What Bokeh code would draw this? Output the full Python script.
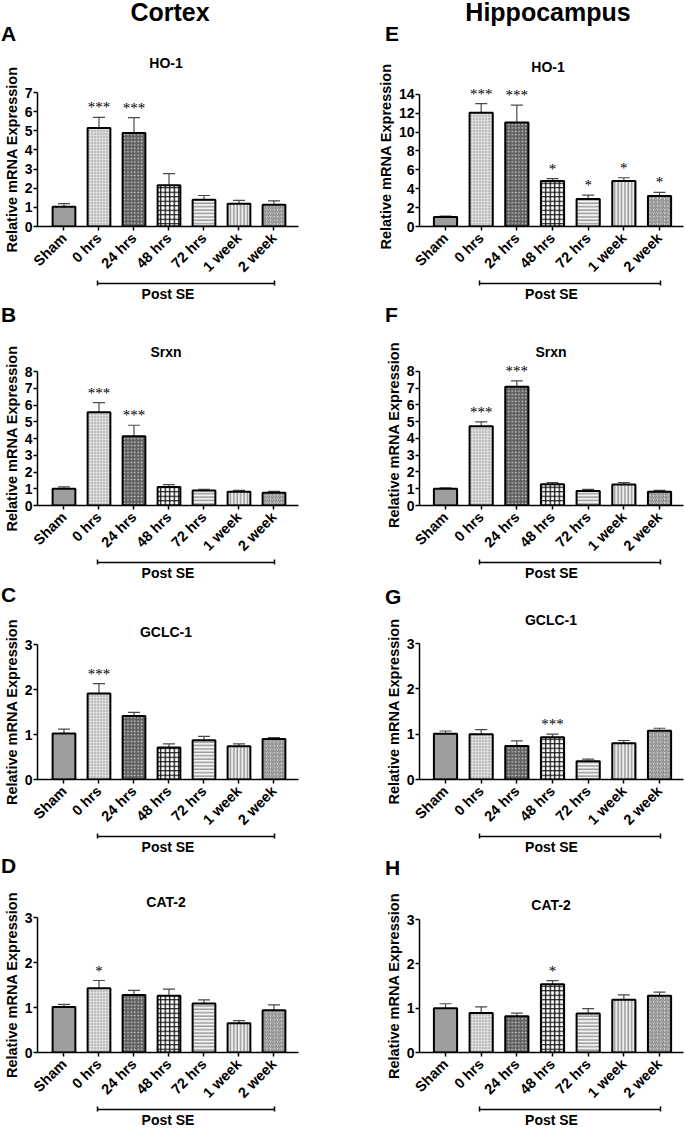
import math
from bokeh.plotting import figure
from bokeh.models import (Range1d, FixedTicker, LinearAxis, Whisker, TeeHead, Div,
                          ColumnDataSource, LabelSet, CustomJSTickFormatter)
from bokeh.layouts import row, column
from bokeh.embed import file_html
from bokeh.resources import INLINE

# ---------------- data ----------------
groups = ["Sham", "0 hrs", "24 hrs", "48 hrs", "72 hrs", "1 week", "2 week"]

cortex_ho1_mean = [1.03, 5.14, 4.89, 2.16, 1.40, 1.19, 1.14]
cortex_ho1_sem = [0.16, 0.56, 0.80, 0.60, 0.22, 0.17, 0.20]
cortex_ho1_sig = ["", "***", "***", "", "", "", ""]

hippo_ho1_mean = [1.00, 12.04, 11.00, 4.82, 2.92, 4.82, 3.23]
hippo_ho1_sem = [0.10, 0.96, 1.86, 0.24, 0.41, 0.34, 0.38]
hippo_ho1_sig = ["", "***", "***", "*", "*", "*", "*"]

cortex_srxn_mean = [1.00, 5.57, 4.14, 1.11, 0.90, 0.82, 0.76]
cortex_srxn_sem = [0.11, 0.57, 0.65, 0.14, 0.07, 0.08, 0.08]
cortex_srxn_sig = ["", "***", "***", "", "", "", ""]

hippo_srxn_mean = [1.00, 4.73, 7.08, 1.27, 0.86, 1.25, 0.82]
hippo_srxn_sem = [0.05, 0.26, 0.35, 0.10, 0.10, 0.12, 0.08]
hippo_srxn_sig = ["", "***", "***", "", "", "", ""]

cortex_gclc_mean = [1.02, 1.91, 1.41, 0.71, 0.87, 0.74, 0.90]
cortex_gclc_sem = [0.10, 0.22, 0.08, 0.08, 0.09, 0.05, 0.03]
cortex_gclc_sig = ["", "***", "", "", "", "", ""]

hippo_gclc_mean = [1.01, 1.00, 0.74, 0.93, 0.40, 0.80, 1.075]
hippo_gclc_sem = [0.06, 0.10, 0.11, 0.07, 0.05, 0.06, 0.055]
hippo_gclc_sig = ["", "", "", "***", "", "", ""]

cortex_cat_mean = [1.01, 1.43, 1.28, 1.26, 1.09, 0.65, 0.94]
cortex_cat_sem = [0.06, 0.17, 0.10, 0.15, 0.08, 0.06, 0.12]
cortex_cat_sig = ["", "*", "", "", "", "", ""]

hippo_cat_mean = [1.00, 0.89, 0.82, 1.54, 0.88, 1.19, 1.28]
hippo_cat_sem = [0.10, 0.14, 0.07, 0.08, 0.11, 0.11, 0.08]
hippo_cat_sig = ["", "", "", "*", "", "", ""]

column_titles = ["Cortex", "Hippocampus"]
panel_letters = [["A", "B", "C", "D"], ["E", "F", "G", "H"]]
gene_names = ["HO-1", "Srxn", "GCLC-1", "CAT-2"]
y_label = "Relative mRNA Expression"
bracket_label = "Post SE"

# ---------------- styles / geometry ----------------
FONT = "Liberation Sans"
INK = "#000000"
bar_fill = ["#9e9e9e", "#dcdcdc", "#5e5e5e", "#ffffff", "#f2f2f2", "#ececec", "#e2e2e2"]
bar_hatch = ["blank", "dot", "dot", "cross", "horizontal_line", "vertical_line", "right_diagonal_line"]
bar_hcolor = ["#000000", "#8f8f8f", "#cfcfcf", "#111111", "#8a8a8a", "#8a8a8a", "#777777"]
bar_hscale = [4, 3, 3.4, 4.5, 3.4, 3.4, 3.6]
bar_hweight = [1, 1, 1.3, 1.3, 1.2, 1.2, 1.1]

ROW_TOP = [0, 304, 583, 857]
ROW_BOT = [304, 583, 857, 1130]
COL_W = [340, 345]
COL_L = [32, 79]
COL_R = [42, 2]
COL_FIRST = [27.0, 26.0]   # px from frame left to first bar centre
SPACING = 35.67            # px between bar centres
PAGE_W, PAGE_H = 685, 1130

# text placement (page px): header centres, letter left edges, gene centres
HEADER_POS = [(170, 12), (548, 12)]
LETTER_X = [1, 385]
LETTER_Y = [[34, 315, 595, 866], [34, 315, 597, 868]]
GENE_X = [[166, 166, 166, 166], [548, 551, 551, 551]]
GENE_Y = [[63, 352, 632, 902], [67, 352, 620, 905]]


def make_panel(col, r, mean, sem, sig, ymax, ystep, y_top, y_bot, headroom):
    frame_top = y_top - headroom
    H = ROW_BOT[r] - ROW_TOP[r]
    T = frame_top - ROW_TOP[r]
    B = ROW_BOT[r] - y_bot
    Fh = y_bot - frame_top
    W, L, R = COL_W[col], COL_L[col], COL_R[col]
    fw = W - L - R
    x0 = -COL_FIRST[col] / SPACING
    x1 = x0 + fw / SPACING
    yend = ymax * Fh / (y_bot - y_top)
    p = figure(width=W, height=H, x_range=Range1d(x0, x1), y_range=Range1d(0, yend),
               output_backend="svg", toolbar_location=None, title=None,
               min_border_left=L, min_border_right=R, min_border_top=T,
               min_border_bottom=B)
    p.outline_line_color = None
    p.xgrid.visible = False
    p.ygrid.visible = False
    p.background_fill_color = "white"
    p.border_fill_color = "white"

    xs = list(range(len(groups)))
    src = ColumnDataSource(dict(
        x=xs, mean=mean, upper=[m + s for m, s in zip(mean, sem)],
        fill=bar_fill, hatch=bar_hatch, hcolor=bar_hcolor,
        hscale=bar_hscale, hweight=bar_hweight))
    p.vbar(x="x", top="mean", width=0.65, bottom=0, source=src,
           fill_color="fill", line_color="black", line_width=2,
           hatch_pattern="hatch", hatch_color="hcolor", hatch_scale="hscale",
           hatch_weight="hweight")
    p.add_layout(Whisker(base="x", lower="mean", upper="upper", source=src,
                         dimension="height", line_color="#4a4a4a", line_width=1.2,
                         lower_head=None,
                         upper_head=TeeHead(size=12, line_color="#4a4a4a", line_width=1.2)))

    sx = [x for x, s in zip(xs, sig) if s]
    sy = [m + e for m, e, s in zip(mean, sem, sig) if s]
    st = [s for s in sig if s]
    ssrc = ColumnDataSource(dict(x=sx, y=sy, t=st))
    p.add_layout(LabelSet(x="x", y="y", text="t", source=ssrc, text_align="center",
                          text_baseline="alphabetic", y_offset=5,
                          text_font=FONT, text_font_size="15px", text_color="#000000"))

    # y axis
    ya = p.yaxis[0]
    ya.ticker = FixedTicker(ticks=list(range(0, ymax + 1, ystep)))
    ya.bounds = (0, ymax)
    ya.axis_label = y_label
    ya.axis_label_text_font = FONT
    ya.axis_label_text_font_style = "bold"
    ya.axis_label_text_font_size = "14.5px"
    ya.axis_label_text_color = INK
    ya.axis_label_standoff = 2
    ya.major_label_text_font = FONT
    ya.major_label_text_font_style = "bold"
    ya.major_label_text_font_size = "14px"
    ya.major_label_text_color = INK
    ya.major_label_standoff = 1
    ya.major_tick_in = 0
    ya.major_tick_out = 4
    ya.minor_tick_line_color = None
    ya.axis_line_width = 1.5
    ya.major_tick_line_width = 1.5

    # x axis
    xa = p.xaxis[0]
    xa.ticker = FixedTicker(ticks=xs)
    xa.major_label_overrides = {i: g for i, g in enumerate(groups)}
    xa.major_label_orientation = math.pi / 4
    xa.major_label_text_font = FONT
    xa.major_label_text_font_style = "bold"
    xa.major_label_text_font_size = "14.5px"
    xa.major_label_text_color = INK
    xa.major_label_standoff = 5
    xa.major_tick_in = 0
    xa.major_tick_out = 4
    xa.minor_tick_line_color = None
    xa.axis_line_width = 1.5
    xa.major_tick_line_width = 1.5

    # "Post SE" bracket
    br = LinearAxis(ticker=FixedTicker(ticks=[0.95, 6.02]), bounds=(0.95, 6.02),
                    axis_label=bracket_label)
    br.formatter = CustomJSTickFormatter(code="return ''")
    br.major_label_text_font_size = "1px"
    br.major_label_standoff = 0
    br.major_tick_in = 3
    br.major_tick_out = 2
    br.minor_tick_line_color = None
    br.axis_line_width = 1.5
    br.major_tick_line_width = 1.5
    br.axis_label_standoff = 0
    br.axis_label_text_font = FONT
    br.axis_label_text_font_style = "bold"
    br.axis_label_text_font_size = "14px"
    br.axis_label_text_color = INK
    p.add_layout(br, "below")
    return p


def text_box(text, size, left, cy, width, align):
    return ('<div style="position:absolute;left:%dpx;top:%dpx;width:%dpx;height:20px;'
            'line-height:20px;text-align:%s;white-space:nowrap;'
            "font-family:'%s';font-weight:bold;font-size:%dpx;color:%s;\">%s</div>"
            % (left, cy - 10, width, align, FONT, size, INK, text))


# (mean, sem, sig, ymax, ystep, y_top, y_bot, headroom)
specs = [
    [(cortex_ho1_mean, cortex_ho1_sem, cortex_ho1_sig, 7, 1, 92, 229, 0),
     (cortex_srxn_mean, cortex_srxn_sem, cortex_srxn_sig, 8, 1, 371, 507, 0),
     (cortex_gclc_mean, cortex_gclc_sem, cortex_gclc_sig, 3, 1, 644, 780, 0),
     (cortex_cat_mean, cortex_cat_sem, cortex_cat_sig, 3, 1, 917, 1053, 0)],
    [(hippo_ho1_mean, hippo_ho1_sem, hippo_ho1_sig, 14, 2, 94, 230, 8),
     (hippo_srxn_mean, hippo_srxn_sem, hippo_srxn_sig, 8, 1, 371, 507, 7),
     (hippo_gclc_mean, hippo_gclc_sem, hippo_gclc_sig, 3, 1, 643, 779, 0),
     (hippo_cat_mean, hippo_cat_sem, hippo_cat_sig, 3, 1, 919, 1055, 0)],
]

cols = []
html = '<div style="position:relative;width:%dpx;height:%dpx;">' % (PAGE_W, PAGE_H)
for c in range(2):
    figs = [make_panel(c, r, *specs[c][r]) for r in range(4)]
    cols.append(column(*figs, spacing=0))
    hx, hy = HEADER_POS[c]
    html += text_box(column_titles[c], 25, hx - 150, hy, 300, "center")
    for r in range(4):
        html += text_box(panel_letters[c][r], 21, LETTER_X[c], LETTER_Y[c][r], 40, "left")
        html += text_box(gene_names[r], 14, GENE_X[c][r] - 100, GENE_Y[c][r], 200, "center")
html += "</div>"

overlay = Div(text=html, width=PAGE_W, height=PAGE_H, margin=(0, 0, 0, -PAGE_W))
layout = row(cols[0], cols[1], overlay, spacing=0)
open("out.html", "w").write(file_html(layout, INLINE))
